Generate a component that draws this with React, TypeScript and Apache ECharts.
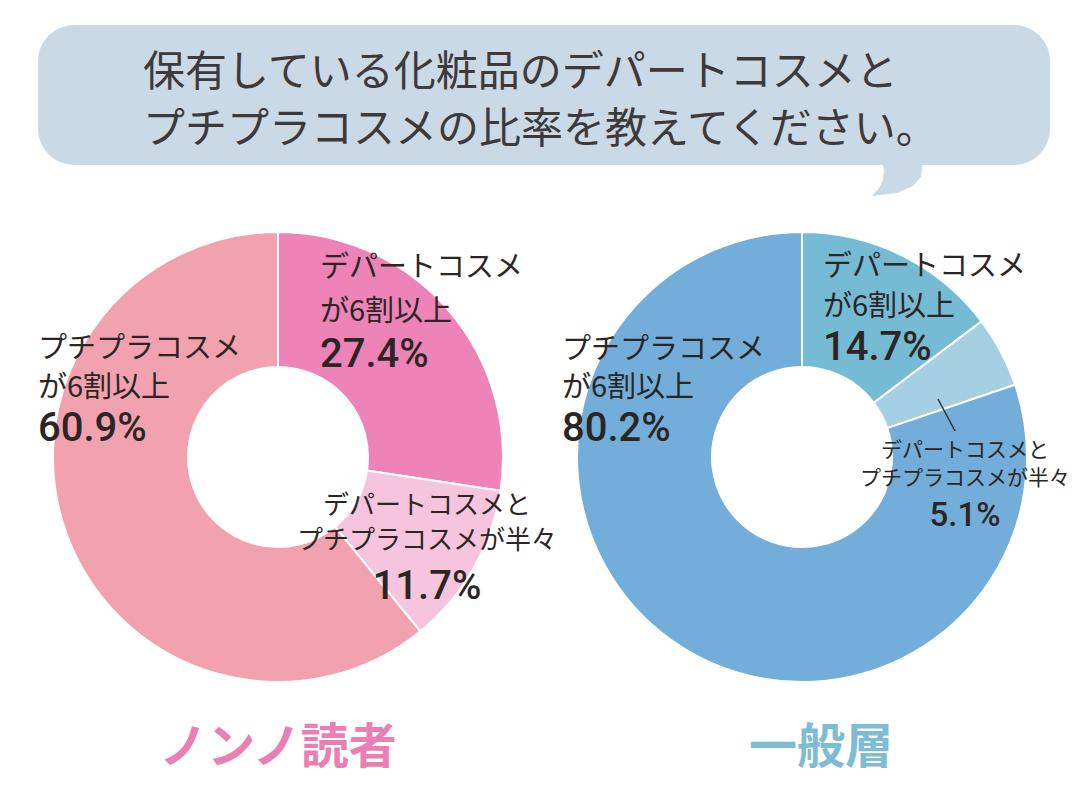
import React, { useEffect, useRef } from "react";
import * as echarts from "echarts";

const questionLines = ["保有している化粧品のデパートコスメと", "プチプラコスメの比率を教えてください。"];
const categories = ["デパートコスメが6割以上", "デパートコスメとプチプラコスメが半々", "プチプラコスメが6割以上"];
const categoryLabelLines = [
  ["デパートコスメ", "が6割以上"],
  ["デパートコスメと", "プチプラコスメが半々"],
  ["プチプラコスメ", "が6割以上"],
];
const groupNames = ["ノンノ読者", "一般層"];
const nonnoValues = [27.4, 11.7, 60.9];
const generalValues = [14.7, 5.1, 80.2];

const JP = '"Noto Sans CJK JP", "Noto Sans", sans-serif';
const NUM = 'Roboto, "DejaVu Sans", sans-serif';
const TXT = "#2b2624";

const nonnoColors = ["#ee83b8", "#f7c4de", "#f2a2ae"];
const generalColors = ["#76bbd4", "#a5d0e4", "#72aed9"];

function txt(text: string, x: number, y: number, size: number, opts: any = {}) {
  return {
    type: "text",
    x,
    y,
    silent: true,
    z: 100,
    style: {
      text,
      fill: opts.fill || TXT,
      font: `${opts.weight || "normal"} ${size}px ${opts.family || JP}`,
      textAlign: opts.align || "left",
      textVerticalAlign: "middle",
    },
  };
}

function pct(v: number) {
  return `${v.toFixed(1)}%`;
}

// one label block: two category lines + the percentage, as a single rich text
function block(
  lines: string[],
  value: number,
  x: number,
  top: number,
  align: string,
  jpSize: number,
  jpLH: number,
  numSize: number,
  numLH: number
) {
  return {
    type: "text",
    x,
    y: top,
    silent: true,
    z: 100,
    style: {
      text: `{a|${lines[0]}}\n{a|${lines[1]}}\n{b|${pct(value)}}`,
      textAlign: align,
      textVerticalAlign: "top",
      fill: TXT,
      rich: {
        a: {
          fontFamily: JP,
          fontSize: jpSize,
          lineHeight: jpLH,
          fill: TXT,
          align,
        },
        b: {
          fontFamily: NUM,
          fontSize: numSize,
          fontWeight: 500,
          lineHeight: numLH,
          fill: TXT,
          align,
        },
      },
    },
  };
}

export default function App() {
  const ref = useRef<HTMLDivElement>(null);
  useEffect(() => {
    if (!ref.current) return;
    const chart = echarts.init(ref.current, null, { renderer: "svg" });

    const graphic: any[] = [
      {
        type: "rect",
        silent: true,
        shape: { x: 38, y: 25, width: 1012, height: 140, r: 36 },
        style: { fill: "#c9d9e6" },
      },
      {
        type: "polygon",
        silent: true,
        shape: {
          points: [
            [882, 160],
            [923, 160],
            [921, 177],
            [913, 186],
            [897, 193],
            [872, 196],
            [879, 188],
            [883, 180],
            [884, 170],
          ],
        },
        style: { fill: "#c9d9e6" },
      },
      txt(questionLines[0], 143, 67, 42, { fill: "#3e3a39" }),
      txt(questionLines[1], 143, 124, 42, { fill: "#3e3a39" }),

      // left chart labels
      block(categoryLabelLines[0], nonnoValues[0], 320, 242, "left", 29, 44, 40, 46),
      block(categoryLabelLines[1], nonnoValues[1], 427, 484.5, "center", 26, 35, 40, 61),
      block(categoryLabelLines[2], nonnoValues[2], 38, 325.5, "left", 29, 39, 40, 47),

      // right chart labels
      block(categoryLabelLines[0], generalValues[0], 823, 243, "left", 29, 40, 40, 46),
      block(categoryLabelLines[1], generalValues[1], 965, 434, "center", 21, 28, 33, 48),
      {
        type: "line",
        silent: true,
        z: 100,
        shape: { x1: 938, y1: 399, x2: 955, y2: 431 },
        style: { stroke: "#333", lineWidth: 1.5 },
      },
      block(categoryLabelLines[2], generalValues[2], 562, 327, "left", 29, 38, 40, 48),

      // group titles
      txt(groupNames[0], 278, 742, 48, { weight: "bold", fill: "#ea7fb3", align: "center" }),
      txt(groupNames[1], 821, 742, 48, { weight: "bold", fill: "#7ebcd4", align: "center" }),
    ];

    const mkSeries = (name: string, values: number[], colors: string[], cx: number) => ({
      type: "pie",
      name,
      center: [cx, 457],
      radius: [90, 225],
      startAngle: 90,
      clockwise: true,
      silent: true,
      label: { show: false },
      labelLine: { show: false },
      itemStyle: { borderColor: "#ffffff", borderWidth: 2 },
      data: categories.map((c, i) => ({ name: c, value: values[i], itemStyle: { color: colors[i] } })),
    });

    chart.setOption({
      animation: false,
      backgroundColor: "#ffffff",
      series: [
        mkSeries(groupNames[0], nonnoValues, nonnoColors, 278),
        mkSeries(groupNames[1], generalValues, generalColors, 802),
      ],
      graphic,
    });
    return () => chart.dispose();
  }, []);
  return (
    <div
      ref={ref}
      style={{ position: "fixed", left: 0, top: 0, width: 1080, height: 810, background: "#fff" }}
    />
  );
}
